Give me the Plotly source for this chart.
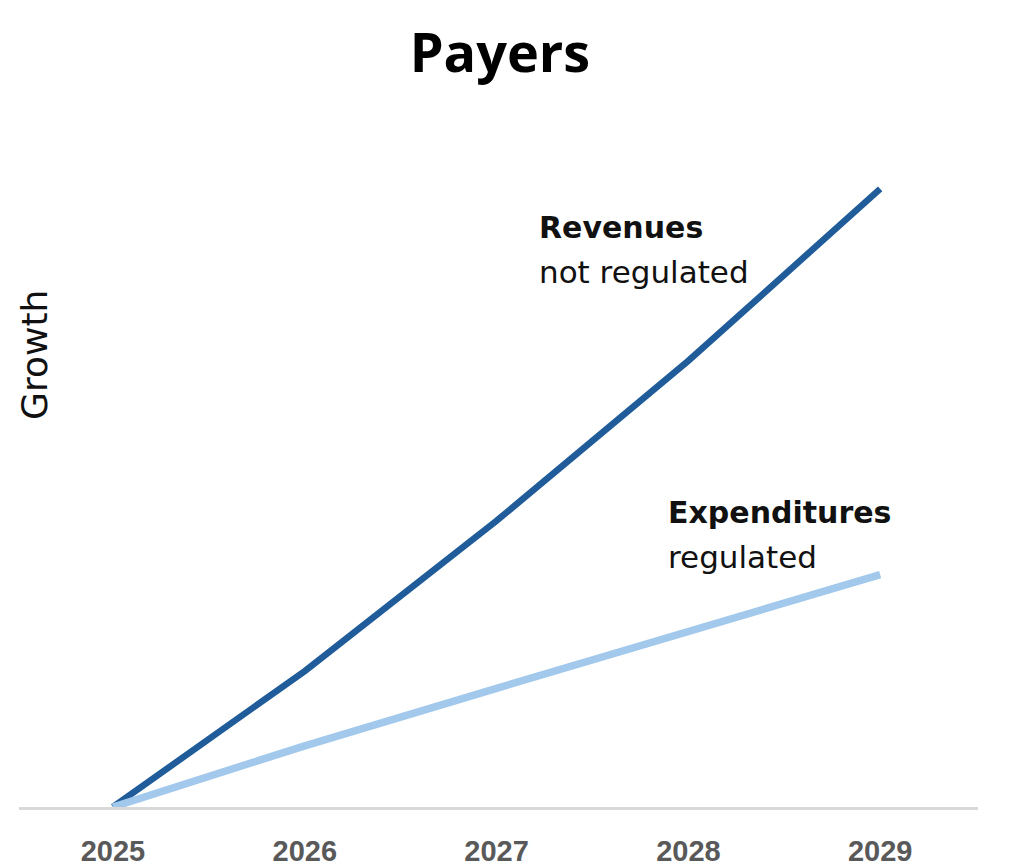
import plotly.graph_objects as go

years = ["2025", "2026", "2027", "2028", "2029"]
revenues = [0, 2.2, 4.63, 7.22, 10.0]
expenditures = [0, 0.99, 1.92, 2.85, 3.76]

dark = "#1f5c99"
light = "#a2c8ec"

fig = go.Figure()
fig.add_trace(go.Scatter(x=years, y=revenues, mode="lines",
                         line=dict(color=dark, width=6.5), hoverinfo="skip"))
fig.add_trace(go.Scatter(x=years, y=expenditures, mode="lines",
                         line=dict(color=light, width=7.5), hoverinfo="skip"))

ann_font = "'DejaVu Sans', sans-serif"
fig.add_annotation(x=2.21, y=9.37, xref="x", yref="y", text="<b>Revenues</b>",
                   showarrow=False, xanchor="left", yanchor="middle",
                   font=dict(family=ann_font, size=30, color="#111111"))
fig.add_annotation(x=2.21, y=8.66, xref="x", yref="y", text="not regulated",
                   showarrow=False, xanchor="left", yanchor="middle",
                   font=dict(family=ann_font, size=31, color="#111111"))
fig.add_annotation(x=2.885, y=4.76, xref="x", yref="y", text="<b>Expenditures</b>",
                   showarrow=False, xanchor="left", yanchor="middle",
                   font=dict(family=ann_font, size=30, color="#111111"))
fig.add_annotation(x=2.885, y=4.05, xref="x", yref="y", text="regulated",
                   showarrow=False, xanchor="left", yanchor="middle",
                   font=dict(family=ann_font, size=31, color="#111111"))
fig.add_annotation(x=0.0167, y=0.688, xref="paper", yref="paper", text="Growth",
                   showarrow=False, textangle=-90, xanchor="center", yanchor="middle",
                   font=dict(family=ann_font, size=36, color="#111111"))

fig.update_layout(
    width=1035, height=868,
    margin=dict(l=19, r=57, t=150, b=61, autoexpand=False),
    paper_bgcolor="white", plot_bgcolor="white",
    showlegend=False,
    title=dict(text="<b>Payers</b>", x=0.483, xanchor="center", y=0.939, yanchor="middle",
               font=dict(family="'Open Sans', sans-serif", size=54, color="#000000")),
    xaxis=dict(type="category", range=[-0.49, 4.51], showgrid=False, zeroline=False,
               showline=True, linecolor="#d9d9d9", linewidth=3, automargin=False,
               ticks="", ticklabelstandoff=16,
               tickfont=dict(family="'Liberation Sans', Arial, sans-serif", size=29, color="#595959", weight="bold")),
    yaxis=dict(range=[0, 10.63], showgrid=False, zeroline=False, showline=False,
               showticklabels=False, ticks="", automargin=False),
)

fig.write_html("out.html")
